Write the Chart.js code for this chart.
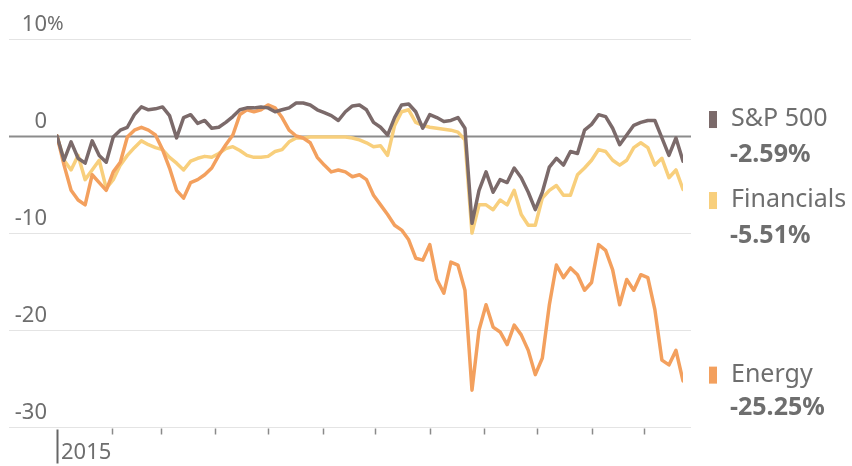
<!DOCTYPE html>
<html>
<head>
<meta charset="utf-8">
<script src="https://cdn.jsdelivr.net/npm/chart.js@4"></script>
<style>
html,body{margin:0;padding:0;background:#fff;}
#wrap{width:852px;height:466px;position:relative;}
</style>
</head>
<body>
<div id="wrap"><canvas id="c" width="852" height="466"></canvas></div>
<script>
// Day of year 2015 (sampled every 4 days)
const days = [0,4,8,12,16,20,24,28,32,36,40,44,48,52,56,60,64,68,72,76,80,84,88,92,96,100,104,108,112,116,120,124,128,132,136,140,144,148,152,156,160,164,168,172,176,180,184,188,192,196,200,204,208,212,216,220,224,228,232,236,240,244,248,252,256,260,264,268,272,276,280,284,288,292,296,300,304,308,312,316,320,324,328,332,336,340,344,348,352,356];

const sp500 = [0,-2.5,-0.6,-2.3,-2.8,-0.5,-2.0,-2.7,-0.1,0.6,0.9,2.2,3.0,2.7,2.8,3.0,2.1,-0.2,1.9,2.2,1.3,1.6,0.8,0.9,1.4,2.0,2.7,2.9,2.9,3.0,2.9,2.5,2.7,2.9,3.4,3.4,3.2,2.7,2.4,2.1,1.6,2.5,3.1,3.2,2.7,1.4,0.9,0.1,1.9,3.2,3.3,2.5,0.8,2.2,1.9,1.5,1.6,1.9,0.8,-9.0,-5.6,-3.7,-5.8,-4.5,-4.8,-3.3,-4.3,-5.8,-7.6,-5.8,-3.2,-2.3,-3.0,-1.6,-1.8,0.6,1.2,2.2,2.0,0.8,-0.9,0.1,1.1,1.4,1.6,1.6,-0.2,-2.0,-0.2,-2.59];

const financials = [0,-2.5,-3.5,-2.0,-4.5,-3.5,-2.5,-5.4,-4.5,-3.0,-2.0,-1.2,-0.5,-0.9,-1.2,-1.4,-2.2,-2.8,-3.5,-2.6,-2.3,-2.1,-2.2,-1.8,-1.3,-1.1,-1.5,-2.0,-2.2,-2.2,-2.1,-1.6,-1.4,-0.6,-0.2,-0.2,-0.1,-0.1,-0.1,-0.1,-0.1,-0.1,-0.2,-0.4,-0.7,-1.1,-1.0,-2.0,1.1,2.5,2.7,1.4,1.1,0.9,0.8,0.7,0.6,0.4,-0.4,-10.0,-7.1,-7.1,-7.6,-6.6,-7.1,-5.6,-8.1,-9.2,-9.2,-6.4,-5.6,-5.1,-6.1,-6.1,-4.0,-3.3,-2.5,-1.4,-1.6,-2.5,-3.0,-2.5,-1.2,-0.7,-1.2,-3.0,-2.3,-4.3,-3.5,-5.51];

const energy = [0,-3.0,-5.6,-6.6,-7.1,-4.0,-4.8,-5.6,-3.7,-2.7,-0.1,0.6,0.9,0.6,0.1,-1.4,-3.3,-5.6,-6.4,-4.8,-4.5,-4.0,-3.3,-2.0,-0.9,0.1,2.2,2.7,2.5,2.7,3.2,2.9,1.9,0.6,0,-0.2,-0.7,-2.2,-3.0,-3.7,-3.5,-3.7,-4.2,-4.0,-4.5,-6.1,-7.1,-8.1,-9.2,-9.7,-10.7,-12.6,-12.8,-11.2,-14.8,-16.2,-13.0,-13.3,-15.9,-26.2,-20.0,-17.4,-19.7,-20.2,-21.5,-19.5,-20.5,-22.1,-24.6,-22.9,-17.4,-13.3,-14.6,-13.6,-14.3,-15.9,-15.1,-11.2,-11.8,-13.8,-17.4,-14.8,-15.9,-14.3,-14.6,-17.9,-23.1,-23.6,-22.1,-25.25];

const yTicks = [10, 0, -10, -20, -30];
const yTickLabels = ['10', '0', '-10', '-20', '-30'];
const monthTicks = [0,31,59,90,120,151,181,212,243,273,304,334];
const yearLabel = '2015';

const seriesNames = ['S&P 500', 'Financials', 'Energy'];
const seriesEnd = ['-2.59%', '-5.51%', '-25.25%'];
const legendAnchor = [1.75, -6.6, -24.6];
const colors = ['#7b6a6a', '#f8cf7c', '#f3a05e'];

const pts = arr => days.map((d, i) => ({x: d, y: arr[i]}));

const TXT = '#6e6e6e';
const FONT = '"Noto Sans", "DejaVu Sans", sans-serif';

const decor = {
  id: 'decor',
  beforeDatasetsDraw(chart) {
    const {ctx, scales: {x, y}, chartArea: a} = chart;
    ctx.save();
    yTicks.forEach((v, i) => {
      const py = Math.round(y.getPixelForValue(v)) + 0.5;
      if (v === 0) { ctx.strokeStyle = '#8c8c8c'; ctx.lineWidth = 2; }
      else { ctx.strokeStyle = '#e4e4e4'; ctx.lineWidth = 1; }
      ctx.beginPath(); ctx.moveTo(9, py); ctx.lineTo(a.right + 8, py); ctx.stroke();
      ctx.fillStyle = TXT;
      ctx.font = '22px ' + FONT;
      ctx.textBaseline = 'middle';
      ctx.textAlign = 'right';
      ctx.fillText(yTickLabels[i], 47, py - 15);
      if (i === 0) { ctx.textAlign = 'left'; ctx.font = '20px ' + FONT; ctx.fillText('%', 47, py - 15); }
    });
    const by = Math.round(y.getPixelForValue(-30)) + 0.5;
    monthTicks.forEach((d, i) => {
      const px = Math.round(x.getPixelForValue(d)) + 0.5;
      ctx.beginPath();
      if (i === 0) { ctx.strokeStyle = '#666'; ctx.lineWidth = 2; ctx.moveTo(px, by + 2); ctx.lineTo(px, by + 36); }
      else { ctx.strokeStyle = '#8a8a8a'; ctx.lineWidth = 1.5; ctx.moveTo(px, by + 1); ctx.lineTo(px, by + 7); }
      ctx.stroke();
    });
    ctx.fillStyle = TXT; ctx.font = '22px ' + FONT;
    ctx.textAlign = 'left'; ctx.textBaseline = 'middle';
    ctx.fillText(yearLabel, x.getPixelForValue(0) + 4, by + 25);
    ctx.restore();
  },
  afterDatasetsDraw(chart) {
    const {ctx, scales: {y}} = chart;
    ctx.save();
    seriesNames.forEach((n, i) => {
      const py = y.getPixelForValue(legendAnchor[i]);
      ctx.fillStyle = colors[i];
      ctx.fillRect(709, py - 8, 8, 17);
      ctx.fillStyle = TXT;
      ctx.textAlign = 'left'; ctx.textBaseline = 'middle';
      ctx.font = '25px ' + FONT;
      ctx.fillText(n, 731, py);
      ctx.font = 'bold 25px ' + FONT;
      ctx.fillText(seriesEnd[i], 730, py + (i === 2 ? 33 : 36));
    });
    ctx.restore();
  }
};

new Chart(document.getElementById('c'), {
  type: 'line',
  data: {
    datasets: [
      {label: seriesNames[1], data: pts(financials), borderColor: colors[1], order: 3},
      {label: seriesNames[2], data: pts(energy), borderColor: colors[2], order: 2},
      {label: seriesNames[0], data: pts(sp500), borderColor: colors[0], order: 1}
    ]
  },
  options: {
    responsive: false,
    animation: false,
    devicePixelRatio: 1,
    layout: {padding: {left: 57, right: 169, top: 39, bottom: 39}},
    elements: {
      line: {borderWidth: 3.5, tension: 0, borderJoinStyle: 'round', borderCapStyle: 'round'},
      point: {radius: 0, hoverRadius: 0}
    },
    plugins: {legend: {display: false}, tooltip: {enabled: false}},
    scales: {
      x: {type: 'linear', min: 0, max: 356, display: false},
      y: {type: 'linear', min: -30, max: 10, display: false}
    }
  },
  plugins: [decor]
});
</script>
</body>
</html>
